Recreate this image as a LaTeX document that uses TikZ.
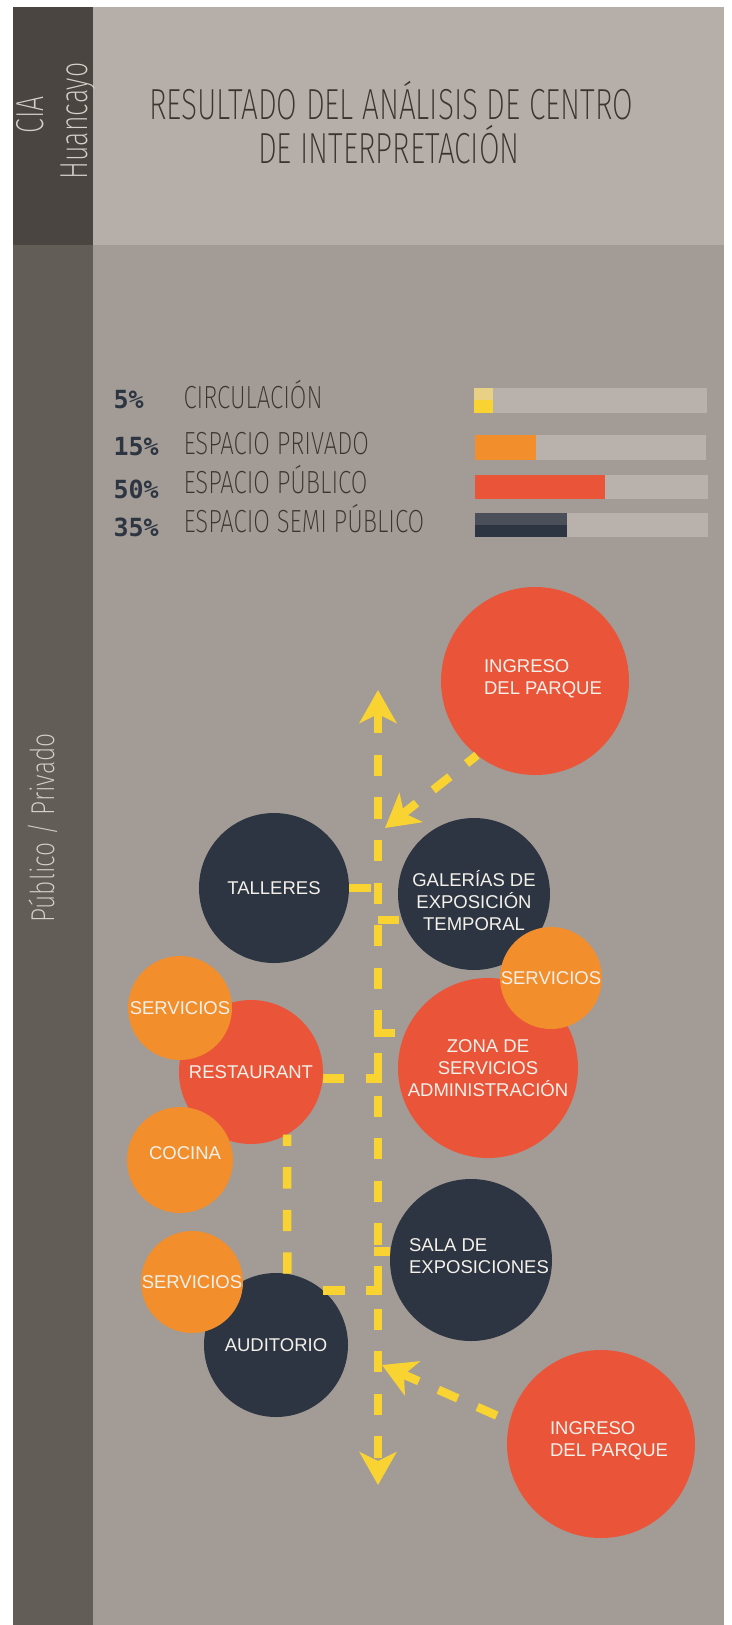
\documentclass[tikz,border=0pt]{standalone}
\usepackage{fontspec}
\usepackage{tikz}
\usetikzlibrary{arrows.meta, positioning, calc}
\newfontfamily\thinfont{Fira Sans ExtraLight}[FakeStretch=0.686]
\newfontfamily\legfont{Fira Sans ExtraLight}[FakeStretch=0.75]
\newfontfamily\roomfont{Liberation Sans}
\newfontfamily\pctfont{DejaVu Sans Mono}
\definecolor{CIA_Red}{HTML}{EA5539}
\definecolor{CIA_Orange}{HTML}{F28E2C}
\definecolor{CIA_Navy}{HTML}{2C3541}
\definecolor{CIA_Slate}{HTML}{4A4F59}
\definecolor{CIA_Yellow}{HTML}{F9D331}
\definecolor{CIA_PaleYellow}{HTML}{E8D184}
\definecolor{CIA_Header}{HTML}{B6AFA9}
\definecolor{CIA_Body}{HTML}{A39C96}
\definecolor{CIA_Track}{HTML}{B9B2AC}
\definecolor{CIA_Dark}{HTML}{4A4541}
\definecolor{CIA_Side}{HTML}{625D57}
\definecolor{CIA_Ink}{HTML}{3A3532}
\definecolor{CIA_Pale}{HTML}{D6D0CA}
\definecolor{CIA_Cream}{HTML}{F4F0EA}

\begin{document}
\begin{tikzpicture}[x=1pt, y=-1pt,
    >={Stealth[length=33pt, width=37pt, inset=9pt]},
    room/.style 2 args={circle, inner sep=0pt, fill=#1, minimum size=#2},
    tag/.style={align=center, text=CIA_Cream, font=\roomfont\fontsize{18.5}{22}\selectfont},
    lighttext/.style={font=\thinfont\fontsize{#1}{#1}\selectfont},
    legtext/.style={font=\legfont\fontsize{#1}{#1}\selectfont},
    pct/.style={anchor=base west, text=CIA_Navy, font=\pctfont\bfseries\fontsize{25}{25}\selectfont},
    flow/.style={draw=CIA_Yellow, line width=8.5pt, dash pattern=on 21.3pt off 21.3pt}]
    \useasboundingbox (0,0) rectangle (731,1625);
    \fill[white] (0,0) rectangle (731,1625);
    % panels
    \fill[CIA_Dark] (13,7) rectangle (93,245);
    \fill[CIA_Side] (13,245) rectangle (93,1625);
    \fill[CIA_Header] (93,7) rectangle (724,245);
    \fill[CIA_Body] (93,245) rectangle (724,1625);
    % side titles
    \node[rotate=90, anchor=base, text=CIA_Pale, lighttext=39] (cia) at (43,115) {CIA};
    \node[rotate=90, anchor=base, text=CIA_Pale, lighttext=39] (city) at (87,121) {Huancayo};
    \node[rotate=90, anchor=base, text=CIA_Pale, legtext=33] (side) at (54,828) {Público / Privado};
    \node[anchor=base, text=CIA_Ink, lighttext=43.5] (title) at (391,119) {RESULTADO DEL ANÁLISIS DE CENTRO};
    \node[anchor=base, text=CIA_Ink, lighttext=43.5] (subtitle) at (389,163) {DE INTERPRETACIÓN};
    % legend
    \node[pct] (p1) at (110,408) {5\%};
    \node[pct] (p2) at (110,455) {15\%};
    \node[pct] (p3) at (110,498) {50\%};
    \node[pct] (p4) at (110,536) {35\%};
    \node[anchor=base west, text=CIA_Ink, legtext=32] (l1) at (180,408) {CIRCULACIÓN};
    \node[anchor=base west, text=CIA_Ink, legtext=32] (l2) at (180,454) {ESPACIO PRIVADO};
    \node[anchor=base west, text=CIA_Ink, legtext=32] (l3) at (180,493) {ESPACIO PÚBLICO};
    \node[anchor=base west, text=CIA_Ink, legtext=32] (l4) at (180,532) {ESPACIO SEMI PÚBLICO};
    % bars
    \fill[CIA_Track] (474,388) rectangle (707,413);
    \fill[CIA_PaleYellow] (474,388) rectangle (493,400);
    \fill[CIA_Yellow] (474,400) rectangle (493,413);
    \fill[CIA_Track] (475,435) rectangle (706,460);
    \fill[CIA_Orange] (475,435) rectangle (536,460);
    \fill[CIA_Track] (475,475) rectangle (708,499);
    \fill[CIA_Red] (475,475) rectangle (605,499);
    \fill[CIA_Track] (475,513) rectangle (708,537);
    \fill[CIA_Slate] (475,513) rectangle (567,525);
    \fill[CIA_Navy] (475,525) rectangle (567,537);
    % rooms
    \node[room={CIA_Red}{188pt}, label={[tag, align=left, xshift=8pt, yshift=2pt]center:{INGRESO\\DEL PARQUE}}] (ingA) at (535,681) {};
    \node[room={CIA_Navy}{150pt}, tag] (tall) at (274,888) {TALLERES};
    \node[room={CIA_Navy}{152pt}, label={[tag, yshift=-7pt]center:{GALERÍAS DE\\EXPOSICIÓN\\TEMPORAL}}] (gal) at (474,894) {};
    \node[room={CIA_Red}{180pt}, tag] (zona) at (488,1068) {ZONA DE\\SERVICIOS\\ADMINISTRACIÓN};
    \node[room={CIA_Orange}{102pt}, tag] (servR) at (551,978) {SERVICIOS};
    \node[room={CIA_Red}{144pt}, tag] (rest) at (251,1072) {RESTAURANT};
    \node[room={CIA_Orange}{104pt}, tag] (servA) at (180,1008) {SERVICIOS};
    \node[room={CIA_Orange}{106pt}, label={[tag, xshift=5pt, yshift=7pt]center:COCINA}] (coc) at (180,1160) {};
    \node[room={CIA_Navy}{162pt}, label={[tag, align=left, xshift=8pt, yshift=4pt]center:{SALA DE\\EXPOSICIONES}}] (sala) at (471,1260) {};
    \node[room={CIA_Navy}{144pt}, tag] (aud) at (276,1345) {AUDITORIO};
    \node[room={CIA_Orange}{102pt}, tag] (servB) at (192,1282) {SERVICIOS};
    \node[room={CIA_Red}{188pt}, label={[tag, align=left, xshift=8pt, yshift=3pt]center:{INGRESO\\DEL PARQUE}}] (ingB) at (601,1444) {};
    % circulation
    \coordinate (top) at (378,690);
    \coordinate (bottom) at (378,1485);
    \coordinate (joinA) at (385,828);
    \coordinate (joinB) at (382,1365);
    \draw[flow, <->] (top) -- (bottom);
    \draw[flow, ->, dash phase=8pt] (ingA.232) -- (joinA);
    \draw[flow, ->, dash phase=28.6pt] (ingB.166) -- (joinB);
    \draw[flow, shorten >=-4.25pt] (tall.east) -- (tall.east -| top);
    \draw[flow] (gal.200 -| top) -- (gal.200);
    \draw[flow, shorten <=-4.25pt] (zona.157 -| top) -- (zona.157);
    \draw[flow, shorten >=-4.25pt] (rest.-5) -- (rest.-5 -| top);
    \draw[flow, shorten <=-4.25pt] (sala.174 -| top) -- (sala.174);
    \draw[flow, shorten >=-4.25pt] (aud.49) -- (aud.49 -| top);
    \draw[flow] (aud.81) -- (rest.-60);
\end{tikzpicture}
\end{document}
